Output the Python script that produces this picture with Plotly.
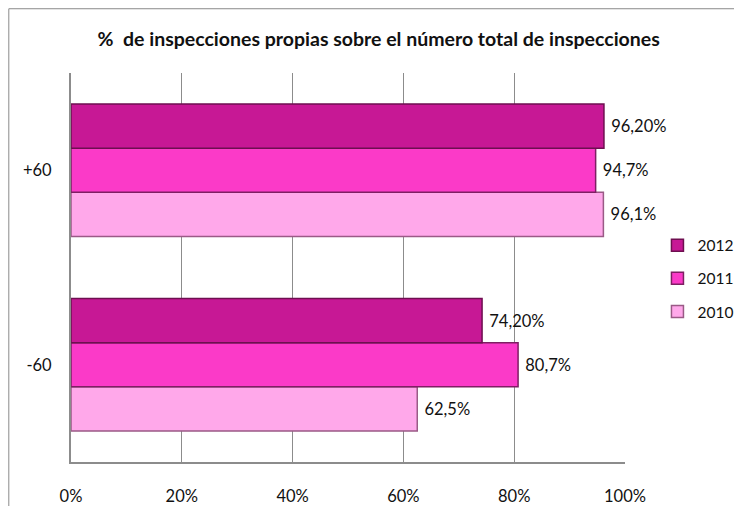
import plotly.graph_objects as go

# data
categories = ["-60", "+60"]
years = ["2010", "2011", "2012"]
values_2010 = [62.5, 96.1]
values_2011 = [80.7, 94.7]
values_2012 = [74.2, 96.2]
labels_2010 = ["62,5%", "96,1%"]
labels_2011 = ["80,7%", "94,7%"]
labels_2012 = ["74,20%", "96,20%"]

colors = {"2010": "#FFA8EA", "2011": "#FB3AC8", "2012": "#C71895"}
edges = {"2010": "#9A5A86", "2011": "#7E1F63", "2012": "#6E0F50"}
ranks = {"2010": 3, "2011": 2, "2012": 1}

series = {
    "2010": (values_2010, labels_2010),
    "2011": (values_2011, labels_2011),
    "2012": (values_2012, labels_2012),
}

FONT = "Lato, Calibri, sans-serif"

fig = go.Figure()
for yr in years:
    vals, labs = series[yr]
    fig.add_trace(go.Bar(
        y=categories, x=vals, name=yr, orientation="h",
        text=["\u00a0" + t for t in labs], textposition="outside", cliponaxis=False,
        textfont=dict(size=16.5, color="#111"),
        marker=dict(color=colors[yr], line=dict(color=edges[yr], width=1.5)),
        legendgroup=yr, legendrank=ranks[yr],
    ))

# page body has an 8px margin, so the figure is 734x498 and starts at (8, 8)
fig.update_layout(
    width=734, height=498,
    paper_bgcolor="white", plot_bgcolor="white",
    margin=dict(l=63, r=0, t=65, b=44, autoexpand=False),
    barmode="group", bargap=0.32, bargroupgap=0,
    font=dict(family=FONT, size=16.5, color="#111"),
    title=dict(text="<b>%  de inspecciones propias sobre el número total de inspecciones</b>",
               x=0.505, xanchor="center", y=0.937, yanchor="middle",
               font=dict(size=19.5, family=FONT, color="#111")),
    legend=dict(x=0.874, xanchor="left", y=0.6, yanchor="top",
                traceorder="grouped", tracegroupgap=10,
                font=dict(size=15.5), bgcolor="rgba(0,0,0,0)"),
    shapes=[dict(type="rect", xref="paper", yref="paper",
                 x0=-0.0927, x1=1.5, y0=-0.5, y1=1.1652,
                 line=dict(color="#8a8a8a", width=1), layer="below")],
)

fig.update_xaxes(domain=[0, 554 / 671], range=[0, 100],
                 tickvals=[0, 20, 40, 60, 80, 100],
                 ticktext=["0%", "20%", "40%", "60%", "80%", "100%"],
                 showgrid=True, gridcolor="#8c8c8c", gridwidth=1,
                 showline=True, linecolor="#8c8c8c", linewidth=2,
                 zeroline=False, ticks="", ticklabelstandoff=18,
                 automargin=False)
fig.update_yaxes(showgrid=False, showline=True, linecolor="#8c8c8c", linewidth=2,
                 ticks="", ticklabelstandoff=14, zeroline=False, automargin=False)

fig.write_html("out.html")
